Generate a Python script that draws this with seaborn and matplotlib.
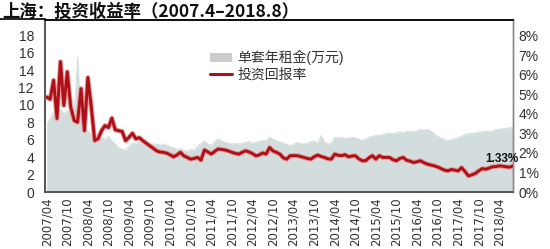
import numpy as np
import pandas as pd
import matplotlib
matplotlib.use('Agg')
import matplotlib.pyplot as plt
import seaborn as sns
from matplotlib.patches import Patch
from matplotlib.lines import Line2D
import matplotlib.patheffects as pe
from matplotlib import font_manager

# ---------------- data ----------------
title = "上海：投资收益率（2007.4–2018.8）"
rent_label = "单套年租金(万元)"
ret_label = "投资回报率"

# monthly, 2007/04 .. 2018/08 (137 months)
rent = [7.8, 8.5, 9.2, 8.6, 9.5, 9.0, 9.4, 9.2, 9.0, 15.5,
        8.5, 7.3, 7.0, 6.6, 6.0, 6.2, 6.3, 6.0, 6.4, 5.9,
        5.5, 5.1, 4.9, 4.8, 5.3, 5.6, 5.6, 5.7, 5.6, 5.5,
        5.6, 5.5, 5.5, 5.4, 5.5, 5.4, 5.2, 5.1, 4.9, 5.0,
        4.8, 4.7, 4.9, 4.8, 5.3, 5.6, 5.9, 5.5, 5.4, 5.8,
        6.1, 5.9, 5.7, 5.6, 5.5, 5.6, 5.5, 5.6, 5.7, 5.8,
        5.6, 5.7, 5.8, 5.9, 5.9, 6.3, 6.1, 5.9, 5.8, 5.6,
        5.5, 5.3, 5.5, 5.7, 5.6, 5.5, 5.6, 5.8, 5.9, 5.6,
        6.5, 5.8, 5.5, 5.6, 6.3, 6.2, 6.3, 6.1, 6.2, 6.3,
        6.2, 6.1, 5.9, 6.1, 6.3, 6.4, 6.5, 6.5, 6.6, 6.7,
        6.8, 6.7, 6.8, 6.9, 6.8, 7.0, 6.9, 7.0, 7.0, 7.2,
        7.1, 7.2, 7.0, 6.7, 6.4, 6.2, 6.0, 5.9, 6.0, 6.1,
        6.3, 6.4, 6.6, 6.7, 6.7, 6.8, 6.9, 6.9, 7.0, 7.0,
        7.0, 7.2, 7.2, 7.3, 7.3, 7.4, 7.4]

ret = [4.86, 4.75, 5.72, 3.76, 6.67, 4.43, 6.15, 4.35, 3.66, 3.57,
       5.29, 3.14, 5.86, 4.35, 2.63, 2.73, 3.14, 3.40, 3.30, 3.78,
       3.18, 3.14, 3.10, 2.63, 2.80, 3.00, 2.72, 2.78, 2.63, 2.50,
       2.37, 2.25, 2.11, 2.05, 2.03, 1.99, 1.90, 1.80, 1.90, 2.03,
       1.85, 1.77, 1.68, 1.72, 1.77, 1.63, 2.15, 2.05, 1.94, 2.08,
       2.20, 2.18, 2.15, 2.10, 2.03, 1.98, 1.94, 2.03, 2.11, 2.05,
       1.97, 1.85, 1.90, 2.00, 1.94, 2.28, 2.10, 2.03, 1.94, 1.75,
       1.68, 1.86, 1.86, 1.86, 1.82, 1.77, 1.72, 1.68, 1.80, 1.89,
       1.82, 1.77, 1.70, 1.68, 1.94, 1.88, 1.86, 1.91, 1.80, 1.84,
       1.86, 1.70, 1.60, 1.60, 1.75, 1.86, 1.68, 1.86, 1.77, 1.77,
       1.77, 1.65, 1.60, 1.72, 1.77, 1.62, 1.58, 1.51, 1.55, 1.60,
       1.50, 1.43, 1.38, 1.34, 1.28, 1.20, 1.12, 1.08, 1.15, 1.12,
       1.08, 1.25, 1.05, 0.82, 0.88, 0.95, 1.08, 1.20, 1.17, 1.22,
       1.29, 1.30, 1.34, 1.32, 1.29, 1.27, 1.33]

tick_labels = ["2007/04", "2007/10", "2008/04", "2008/10", "2009/04", "2009/10",
               "2010/04", "2010/10", "2011/04", "2011/10", "2012/04", "2012/10",
               "2013/04", "2013/10", "2014/04", "2014/10", "2015/04", "2015/10",
               "2016/04", "2016/10", "2017/04", "2017/10", "2018/04"]
left_ticks = [0, 2, 4, 6, 8, 10, 12, 14, 16, 18]
right_ticks = [0, 1, 2, 3, 4, 5, 6, 7, 8]
end_label = "1.33%"

# ---------------- style ----------------
sns.set_theme(style='white')
plt.rcParams['font.family'] = ['Liberation Sans', 'Noto Sans CJK SC', 'DejaVu Sans']
names = {f.name for f in font_manager.fontManager.ttflist}
narrow = 'Liberation Sans Narrow' if 'Liberation Sans Narrow' in names else 'Liberation Sans'

df = pd.DataFrame({'m': np.arange(len(rent)), 'rent': rent, 'ret': ret})

W, H = 550, 249
fig = plt.figure(figsize=(W / 100, H / 100), dpi=100)
x0, x1, y0, y1 = 45, 513, 192, 19.5
ax = fig.add_axes([x0 / W, 1 - y0 / H, (x1 - x0) / W, (y0 - y1) / H])

area_col = '#d4dddd'
red = '#ad1117'

ax.fill_between(df['m'], 0, df['rent'], color=area_col, lw=0, zorder=1)
sns.lineplot(data=df, x='m', y='rent', ax=ax, color=area_col, lw=0.6, zorder=1)
ax.set_xlim(-0.5, len(rent) - 1)
ax.set_ylim(0, 19.8)
ax.set_yticks(left_ticks)
ax.set_yticklabels([str(t) for t in left_ticks], fontsize=10, color='#333333')
ax.set_xticks(np.arange(0, len(tick_labels) * 6, 6))
ax.set_xticklabels(tick_labels, rotation=90, fontsize=8.5, color='#333333',
                   family='DejaVu Sans')
ax.set_xlabel('')
ax.set_ylabel('')
ax.tick_params(axis='y', length=0, pad=8)
ax.tick_params(axis='x', length=0, pad=4)

ax2 = ax.twinx()
sns.lineplot(data=df, x='m', y='ret', ax=ax2, color=red, lw=2.1,
             solid_joinstyle='round', solid_capstyle='round',
             path_effects=[pe.Stroke(linewidth=3.5, foreground='#e59a9a', joinstyle='round'),
                           pe.Normal()])
ax2.set_ylim(0, 8.83)
ax2.set_yticks(right_ticks)
ax2.set_yticklabels([f"{t}%" for t in right_ticks], fontsize=10, color='#333333')
ax2.tick_params(axis='y', length=0, pad=4)
ax2.set_ylabel('')
ax2.set_xlim(-0.5, len(rent) - 1)

for a in (ax, ax2):
    a.spines['left'].set_color('#555555')
    a.spines['bottom'].set_color('#555555')
    a.spines['right'].set_color('#888888')
    a.spines['top'].set_color('#111111')
    a.spines['left'].set_linewidth(1.2)
    a.spines['bottom'].set_linewidth(1.2)
    a.spines['right'].set_linewidth(1.0)
    a.spines['top'].set_linewidth(1.3)

fig.add_artist(Line2D([0, x0 / W], [1 - y1 / H, 1 - y1 / H], color='#111111', lw=1.3))

ax2.text(137.7, 1.71, end_label, ha='right', va='center', fontsize=8.5,
         fontweight='bold', color='#111111', family=narrow, clip_on=False)

handles = [Patch(facecolor='#c9cccc', edgecolor='none'),
           Line2D([0], [0], color=red, lw=2.2)]
ax2.legend(handles, [rent_label, ret_label], loc='upper left',
           bbox_to_anchor=(0.3526, 0.823), frameon=False, fontsize=10,
           handlelength=1.6, handleheight=0.7, handletextpad=0.35,
           labelspacing=0.15, borderpad=0, borderaxespad=0,
           labelcolor='#333333')

fig.text(0.004, 0.99, title, ha='left', va='top', fontsize=12.5,
         fontweight='bold', color='#111111',
         family=['Noto Sans CJK SC', 'DejaVu Sans'])

fig.savefig('out.png', dpi=100)
